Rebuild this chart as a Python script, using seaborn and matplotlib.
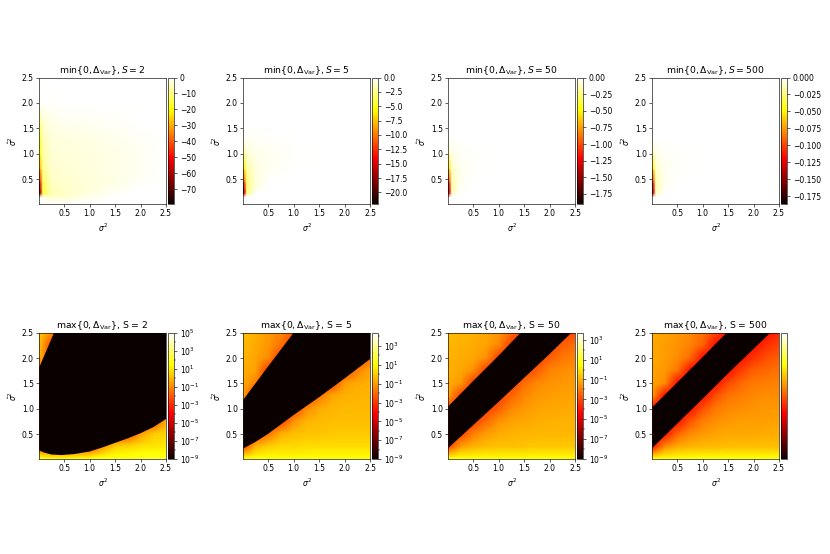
import numpy as np
import matplotlib
matplotlib.use("Agg")
import matplotlib.pyplot as plt
from matplotlib.colors import Normalize
from matplotlib.ticker import MultipleLocator, NullLocator, FuncFormatter
import seaborn as sns

sns.set_style("ticks")
plt.rcParams["font.family"] = ["DejaVu Sans"]
plt.rcParams["axes.edgecolor"] = "black"
plt.rcParams["text.color"] = "black"
plt.rcParams["axes.labelcolor"] = "black"
plt.rcParams["xtick.color"] = "black"
plt.rcParams["ytick.color"] = "black"

S_values = [2, 5, 50, 500]

# ---- top row: min{0, dVar} (rows = sigma_hat^2 upward, cols = sigma^2)
top_sx = [0.01, 0.03, 0.08, 0.25, 0.5, 1.0, 1.5, 2.0, 2.5]
top_sy = [0.01, 0.15, 0.22, 0.3, 0.45, 0.7, 1.0, 1.3, 1.6, 2.0, 2.5]
top_vmin = [-79.2, -22.0, -1.9, -0.186]
top_step = [10, 2.5, 0.25, 0.025]

top_S2 = [
    [0, 0, 0, 0, 0, 0, 0, 0, 0],
    [0, 0, -2, -4, -4, -1.5, 0, 0, 0],
    [-79, -60, -15, -6, -4.5, -2.5, -0.5, 0, 0],
    [-77, -55, -14, -5.5, -4.5, -3, -1.5, -0.3, 0],
    [-58, -45, -12, -5, -4, -3, -2, -0.8, 0],
    [-35, -28, -9, -4, -3.5, -2.5, -2, -1, 0],
    [-22, -18, -7, -3.5, -3, -2.5, -2, -1, 0],
    [-18, -14, -6, -3, -2.5, -2, -1.5, -0.7, 0],
    [-12, -9, -4, -2, -1.5, -1.2, -0.8, -0.3, 0],
    [0, 0, 0, -0.5, -0.3, 0, 0, 0, 0],
    [0, 0, 0, 0, 0, 0, 0, 0, 0],
]
top_S5 = [
    [0, 0, 0, 0, 0, 0, 0, 0, 0],
    [0, 0, 0, 0, 0, 0, 0, 0, 0],
    [-22, -15, -2.5, 0, 0, 0, 0, 0, 0],
    [-22, -15, -3, -0.6, 0, 0, 0, 0, 0],
    [-15, -11, -3, -0.8, 0, 0, 0, 0, 0],
    [-8, -6, -2, -0.7, -0.4, 0, 0, 0, 0],
    [-3, -2.2, -1, -0.5, -0.3, -0.1, 0, 0, 0],
    [0, 0, -0.2, -0.2, -0.1, 0, 0, 0, 0],
    [0, 0, 0, 0, 0, 0, 0, 0, 0],
    [0, 0, 0, 0, 0, 0, 0, 0, 0],
    [0, 0, 0, 0, 0, 0, 0, 0, 0],
]
top_S50 = [
    [0, 0, 0, 0, 0, 0, 0, 0, 0],
    [0, 0, 0, 0, 0, 0, 0, 0, 0],
    [-1.9, -1.2, -0.1, 0, 0, 0, 0, 0, 0],
    [-1.9, -1.3, -0.15, -0.02, 0, 0, 0, 0, 0],
    [-1.6, -1.0, -0.15, -0.03, 0, 0, 0, 0, 0],
    [-0.8, -0.55, -0.1, -0.03, -0.01, 0, 0, 0, 0],
    [-0.15, -0.1, -0.05, -0.02, -0.01, 0, 0, 0, 0],
    [0, 0, 0, 0, 0, 0, 0, 0, 0],
    [0, 0, 0, 0, 0, 0, 0, 0, 0],
    [0, 0, 0, 0, 0, 0, 0, 0, 0],
    [0, 0, 0, 0, 0, 0, 0, 0, 0],
]
top_S500 = [
    [0, 0, 0, 0, 0, 0, 0, 0, 0],
    [0, 0, 0, 0, 0, 0, 0, 0, 0],
    [-0.186, -0.12, -0.01, 0, 0, 0, 0, 0, 0],
    [-0.186, -0.13, -0.015, -0.002, 0, 0, 0, 0, 0],
    [-0.15, -0.1, -0.015, -0.003, 0, 0, 0, 0, 0],
    [-0.07, -0.05, -0.01, -0.003, -0.001, 0, 0, 0, 0],
    [-0.012, -0.01, -0.005, -0.002, -0.001, 0, 0, 0, 0],
    [0, 0, 0, 0, 0, 0, 0, 0, 0],
    [0, 0, 0, 0, 0, 0, 0, 0, 0],
    [0, 0, 0, 0, 0, 0, 0, 0, 0],
    [0, 0, 0, 0, 0, 0, 0, 0, 0],
]
top_data = [top_S2, top_S5, top_S50, top_S500]

# ---- bottom row: max{0, dVar} as log10 values on an even grid
# rows run from sigma_hat^2 = 2.5 (top) down to 0.01, cols from sigma^2 = 0.01 to 2.5
bot_sx = [0.01, 0.259, 0.508, 0.757, 1.006, 1.255, 1.504, 1.753, 2.002, 2.251, 2.5]
bot_sy = bot_sx[::-1]
bot_log_max = [5.0, 4.4, 3.7, 3.5]
bot_log_min = -9.0

bot_S2 = [
    [0.4, -0.8, -2.5, -2.5, -2.5, -2.5, -2.5, -2.5, -2.5, -2.5, -2.5],
    [0.2, -2.5, -2.5, -2.5, -2.5, -2.5, -2.5, -2.5, -2.5, -2.5, -2.5],
    [0.0, -2.5, -2.5, -2.5, -2.5, -2.5, -2.5, -2.5, -2.5, -2.5, -2.5],
    [-2.0, -2.5, -2.5, -2.5, -2.5, -2.5, -2.5, -2.5, -2.5, -2.5, -2.5],
    [-2.5, -2.5, -2.5, -2.5, -2.5, -2.5, -2.5, -2.5, -2.5, -2.5, -2.5],
    [-2.5, -2.5, -2.5, -2.5, -2.5, -2.5, -2.5, -2.5, -2.5, -2.5, -2.5],
    [-2.5, -2.5, -2.5, -2.5, -2.5, -2.5, -2.5, -2.5, -2.5, -2.5, -2.5],
    [-2.5, -2.5, -2.5, -2.5, -2.5, -2.5, -2.5, -2.5, -2.5, -2.5, -0.3],
    [-2.5, -2.5, -2.5, -2.5, -2.5, -2.5, -2.5, -2.5, -0.6, 0.3, 0.6],
    [-2.5, -2.5, -2.5, -2.5, -2.5, -0.8, 0.4, 0.6, 0.8, 0.9, 1.0],
    [1.8, 1.5, 1.4, 1.5, 1.6, 1.7, 1.8, 1.8, 1.9, 1.9, 1.9],
]
bot_S5 = [
    [-0.3, -0.6, -1.0, -1.4, -2.3, -3, -3, -3, -3, -3, -3],
    [-0.4, -0.7, -1.1, -1.8, -3, -3, -3, -3, -3, -3, -3],
    [-0.5, -0.8, -1.3, -3, -3, -3, -3, -3, -3, -3, -2.0],
    [-0.6, -0.9, -3, -3, -3, -3, -3, -3, -3, -1.6, -0.8],
    [-0.7, -1.5, -3, -3, -3, -3, -3, -3, -1.0, -0.7, -0.6],
    [-0.9, -3, -3, -3, -3, -3, -1.8, -0.8, -0.6, -0.5, -0.5],
    [-3, -3, -3, -3, -3, -1.4, -0.7, -0.5, -0.4, -0.4, -0.4],
    [-3, -3, -3, -3, -1.2, -0.5, -0.4, -0.3, -0.3, -0.3, -0.3],
    [-3, -3, -1.8, -0.6, -0.3, -0.2, -0.2, -0.1, -0.1, -0.1, -0.1],
    [-3, -0.5, 0.0, 0.2, 0.2, 0.3, 0.3, 0.3, 0.3, 0.3, 0.3],
    [1.2, 1.1, 1.1, 1.0, 1.0, 1.0, 1.0, 1.0, 1.0, 1.0, 1.0],
]
bot_S50 = [
    [-0.8, -0.9, -1.0, -1.2, -1.5, -2.4, -3.2, -3.2, -3.2, -3.2, -3.0],
    [-0.9, -1.0, -1.1, -1.3, -1.8, -3.2, -3.2, -3.2, -3.2, -2.6, -2.3],
    [-1.0, -1.1, -1.2, -1.6, -3.2, -3.2, -3.2, -3.2, -2.6, -2.1, -1.9],
    [-1.0, -1.2, -1.6, -3.2, -3.2, -3.2, -3.2, -2.6, -1.9, -1.7, -1.6],
    [-1.1, -1.4, -3.2, -3.2, -3.2, -3.2, -2.3, -1.8, -1.6, -1.5, -1.4],
    [-1.2, -3.2, -3.2, -3.2, -3.2, -2.5, -1.8, -1.5, -1.4, -1.3, -1.3],
    [-3.2, -3.2, -3.2, -3.2, -2.6, -1.8, -1.5, -1.3, -1.2, -1.2, -1.1],
    [-3.2, -3.2, -3.2, -2.4, -1.6, -1.3, -1.2, -1.1, -1.0, -1.0, -1.0],
    [-3.2, -3.2, -2.0, -1.4, -1.1, -1.0, -0.9, -0.9, -0.9, -0.9, -0.9],
    [-3.2, -1.4, -1.0, -0.8, -0.7, -0.7, -0.7, -0.6, -0.6, -0.6, -0.6],
    [0.7, 0.6, 0.5, 0.5, 0.5, 0.5, 0.5, 0.5, 0.5, 0.5, 0.5],
]
bot_S500 = [
    [-1.2, -1.4, -1.6, -1.9, -2.3, -3.0, -4.2, -4.2, -4.2, -4.2, -3.8],
    [-1.3, -1.5, -1.7, -2.0, -2.6, -4.2, -4.2, -4.2, -4.2, -3.6, -3.2],
    [-1.3, -1.5, -1.8, -2.4, -4.2, -4.2, -4.2, -4.2, -3.5, -3.0, -2.7],
    [-1.4, -1.6, -2.2, -4.2, -4.2, -4.2, -4.2, -3.3, -2.7, -2.5, -2.3],
    [-1.4, -1.8, -4.2, -4.2, -4.2, -4.2, -3.1, -2.5, -2.2, -2.1, -2.0],
    [-1.5, -4.2, -4.2, -4.2, -4.2, -3.0, -2.3, -2.1, -1.9, -1.8, -1.8],
    [-4.2, -4.2, -4.2, -4.2, -3.0, -2.2, -1.9, -1.8, -1.7, -1.6, -1.6],
    [-4.2, -4.2, -4.2, -2.9, -2.1, -1.8, -1.6, -1.5, -1.5, -1.5, -1.4],
    [-4.2, -4.2, -2.6, -1.9, -1.6, -1.4, -1.3, -1.3, -1.3, -1.2, -1.2],
    [-4.2, -1.9, -1.3, -1.1, -1.0, -1.0, -0.9, -0.9, -0.9, -0.9, -0.9],
    [0.5, 0.4, 0.4, 0.4, 0.4, 0.4, 0.4, 0.4, 0.4, 0.4, 0.4],
]
bot_data = [bot_S2, bot_S5, bot_S50, bot_S500]

# zero region (max{0, dVar} = 0): lower and upper edge
band_lo_x = [[0.01, 0.1, 0.25, 0.45, 0.7, 1.0, 1.25, 1.5, 1.75, 2.0, 2.25, 2.5],
             [0.01, 0.25, 0.5, 1.0, 1.5, 2.0, 2.5],
             [0.01, 0.5, 1.0, 1.5, 2.0, 2.43],
             [0.01, 0.5, 1.0, 1.5, 2.0, 2.33]]
band_lo_y = [[0.18, 0.14, 0.10, 0.09, 0.11, 0.16, 0.24, 0.33, 0.42, 0.52, 0.64, 0.80],
             [0.22, 0.35, 0.51, 0.88, 1.23, 1.60, 1.98],
             [0.23, 0.68, 1.14, 1.61, 2.08, 2.5],
             [0.23, 0.71, 1.20, 1.70, 2.18, 2.5]]
band_hi_x = [[0.01, 0.30, 2.5],
             [0.01, 0.5, 1.0, 2.5],
             [0.01, 0.5, 1.0, 1.43],
             [0.01, 0.5, 1.0, 1.47]]
band_hi_y = [[1.82, 2.5, 2.5],
             [1.18, 1.84, 2.5, 2.5],
             [1.05, 1.55, 2.05, 2.5],
             [1.03, 1.52, 2.02, 2.5]]

cmap = sns.color_palette("hot", as_cmap=True)

W, H = 830, 554
FW = 15
fig = plt.figure(figsize=(FW, H / (W / FW)), dpi=W / FW)

lefts = [39.3, 243.3, 448.3, 652.3]
pw = 126.7
row_tops = [77.5, 332.7]
ph = 126.4


def add_px_axes(x0, y0, w, h):
    return fig.add_axes([x0 / W, 1 - (y0 + h) / H, w / W, h / H])


def style_axes(ax):
    ax.set_xlim(0.01, 2.5)
    ax.set_ylim(0.01, 2.5)
    ax.set_xticks([0.5, 1.0, 1.5, 2.0, 2.5])
    ax.set_yticks([0.5, 1.0, 1.5, 2.0, 2.5])
    ax.set_xlabel(r"$\sigma^2$")
    ax.set_ylabel(r"$\hat{\sigma}^2$")


pow_fmt = FuncFormatter(lambda v, p: r"$10^{%d}$" % round(v))
half = (bot_sx[1] - bot_sx[0]) / 2

for i, S in enumerate(S_values):
    # top row
    ax = add_px_axes(lefts[i], row_tops[0], pw, ph)
    Z = np.array(top_data[i], dtype=float)
    m = ax.pcolormesh(top_sx, top_sy, Z, shading="gouraud", cmap=cmap,
                      norm=Normalize(vmin=top_vmin[i], vmax=0))
    style_axes(ax)
    ax.set_title(r"$\min\{0, \Delta_{\mathrm{Var}}\}, S=%d$" % S)
    cax = add_px_axes(lefts[i] + pw + 2.3, row_tops[0], 6, ph)
    cb = fig.colorbar(m, cax=cax)
    cb.ax.yaxis.set_major_locator(MultipleLocator(top_step[i]))
    cb.outline.set_linewidth(0.8)

    # bottom row
    ax = add_px_axes(lefts[i], row_tops[1], pw, ph)
    Zb = np.array(bot_data[i], dtype=float)
    m = ax.imshow(Zb, cmap=cmap, origin="upper", aspect="auto",
                  interpolation="bilinear", interpolation_stage="data",
                  extent=[bot_sx[0] - half, bot_sx[-1] + half,
                          bot_sy[-1] - half, bot_sy[0] + half],
                  norm=Normalize(vmin=bot_log_min, vmax=bot_log_max[i]))
    poly_x = band_lo_x[i] + band_hi_x[i][::-1]
    poly_y = band_lo_y[i] + band_hi_y[i][::-1]
    ax.fill(poly_x, poly_y, color=cmap(0.0), lw=0, zorder=2)
    style_axes(ax)
    ax.set_title(r"$\max\{0, \Delta_{\mathrm{Var}}\}$, S = %d" % S)
    cax = add_px_axes(lefts[i] + pw + 2.3, row_tops[1], 6, ph)
    cb = fig.colorbar(m, cax=cax)
    if S == 500:
        cb.ax.yaxis.set_major_locator(NullLocator())
        cb.ax.yaxis.set_minor_locator(NullLocator())
    else:
        cb.set_ticks(list(range(-9, int(bot_log_max[i]) + 1, 2)))
        cb.ax.yaxis.set_major_formatter(pow_fmt)
        cb.ax.yaxis.set_minor_locator(MultipleLocator(1))
        cb.ax.tick_params(which="minor", length=2)
    cb.outline.set_linewidth(0.8)

fig.savefig("out.png", dpi=W / FW)
